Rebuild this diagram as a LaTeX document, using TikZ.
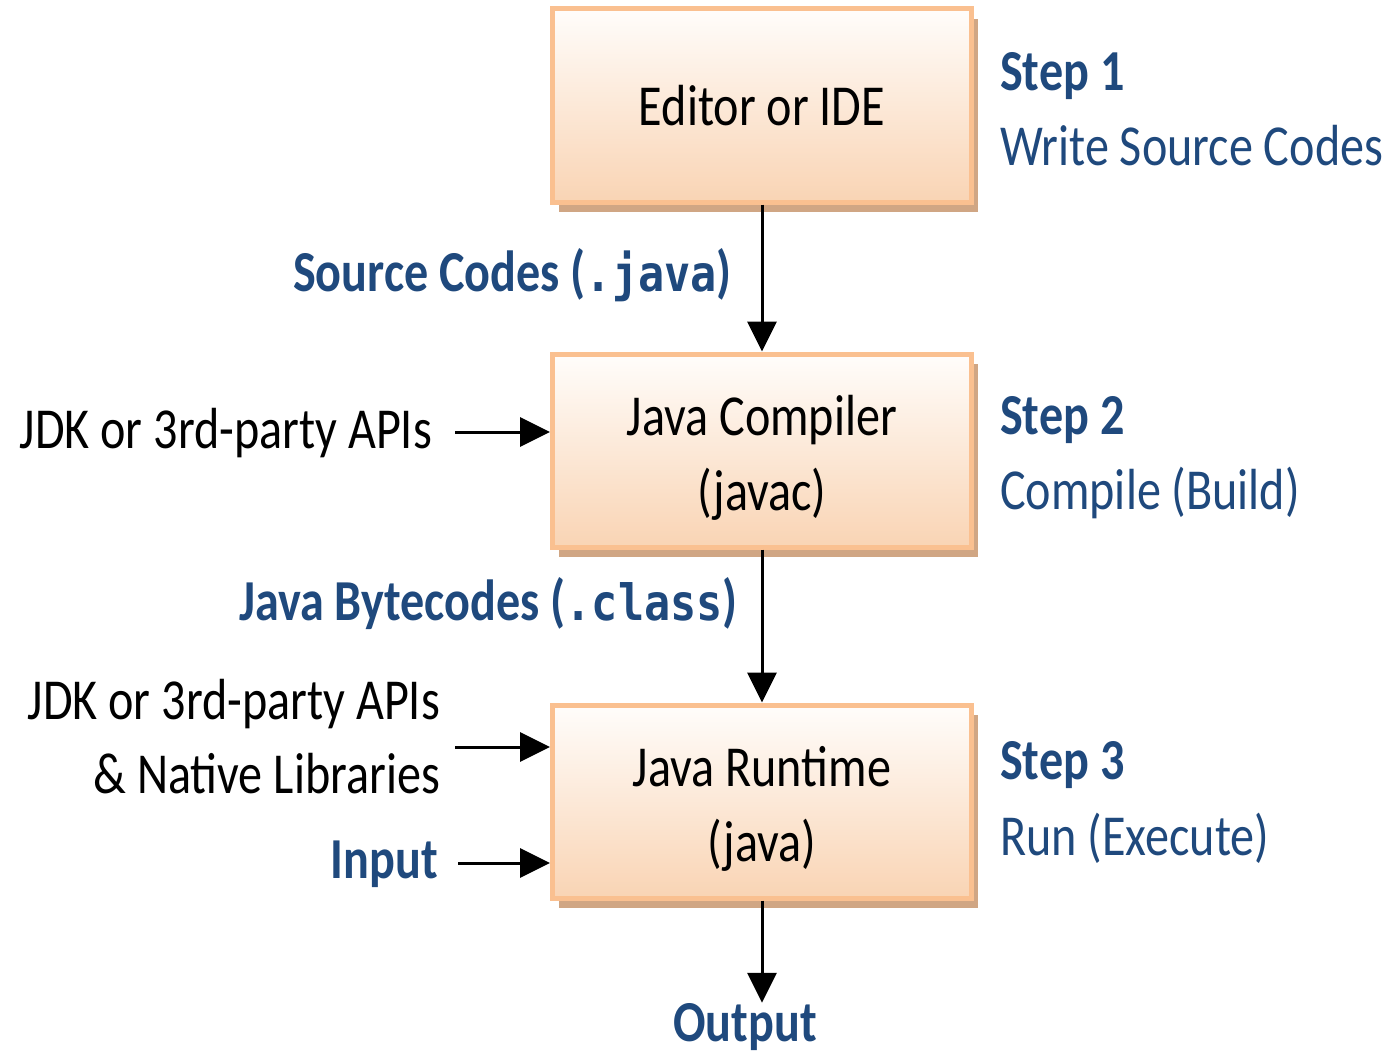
\documentclass[tikz,border=0pt]{standalone}
\usepackage{fontspec}
\setmainfont{Carlito}[FakeStretch=0.83]
\newfontfamily\monob{DejaVu Sans Mono}[FakeStretch=0.87]
\usetikzlibrary{arrows.meta,shadows}
\definecolor{bordc}{RGB}{250,192,144}
\definecolor{topc}{RGB}{255,253,251}
\definecolor{botc}{RGB}{249,212,180}
\definecolor{shadc}{RGB}{208,166,132}
\definecolor{bluet}{RGB}{31,73,125}
\newcommand\fsz{\fontsize{58}{75}\selectfont}
\newcommand\msz{\fontsize{50}{60}\selectfont}
\newcommand\liftline{\rule{0pt}{55pt}}
\tikzset{
  box/.style={draw=bordc, line width=5pt, top color=topc, bottom color=botc,
    minimum width=419pt, minimum height=193pt, inner sep=0pt, align=center,
    font=\fsz, text=black,
    drop shadow={shadow xshift=6pt, shadow yshift=-10pt, fill=shadc, opacity=1}},
  lbl/.style={inner sep=0pt, font=\fsz, text=black},
  blbl/.style={inner sep=0pt, font=\fsz\bfseries, text=bluet},
  slbl/.style={inner sep=0pt, font=\fsz, text=bluet},
  arr/.style={line width=3pt, -{Triangle[length=30pt,width=29pt]}}
}
\begin{document}
\begin{tikzpicture}[x=1pt,y=-1pt]
\useasboundingbox (0,0) rectangle (1394,1054);
% boxes
\node[box] (b1) at (762,105.5) {Editor or IDE};
\node[box] (b2) at (762,450.5) {\liftline Java Compiler\\(javac)};
\node[box] (b3) at (762,801.5) {\liftline Java Runtime\\(java)};
% step labels
\node[blbl, anchor=base west] (s1) at (1000,91) {Step 1};
\node[slbl, anchor=base west] (d1) at (1000,165) {Write Source Codes};
\node[blbl, anchor=base west] (s2) at (1000,434) {Step 2};
\node[slbl, anchor=base west] (d2) at (1000,509) {Compile (Build)};
\node[blbl, anchor=base west] (s3) at (1000,779) {Step 3};
\node[slbl, anchor=base west] (d3) at (1000,855) {Run (Execute)};
% edge labels
\node[blbl, anchor=base east] (src) at (732,291) {Source Codes ({\monob\msz\bfseries .java})};
\node[blbl, anchor=base east] (byte) at (738,620) {Java Bytecodes ({\monob\msz\bfseries .class})};
% left labels
\node[lbl, anchor=base east] (jdk1) at (432,448) {JDK or 3rd-party APIs};
\node[lbl, anchor=base east] (jdk2) at (440,719) {JDK or 3rd-party APIs};
\node[lbl, anchor=base east] (nat) at (440,793) {\& Native Libraries};
\node[blbl, anchor=base east] (inp) at (438,878) {Input};
\node[blbl, anchor=base] (out) at (745,1041) {Output};
% free ends
\coordinate (j1) at (455,432);
\coordinate (j2) at (455,747);
\coordinate (i1) at (458,863);
% connectors
\draw[arr] (b1) -- (b2);
\draw[arr] (b2) -- (b3);
\draw[arr] (b3.south) -- (b3.south |- out.north);
\draw[arr] (j1) -- (j1 -| b2.west);
\draw[arr] (j2) -- (j2 -| b3.west);
\draw[arr] (i1) -- (i1 -| b3.west);
\end{tikzpicture}
\end{document}
